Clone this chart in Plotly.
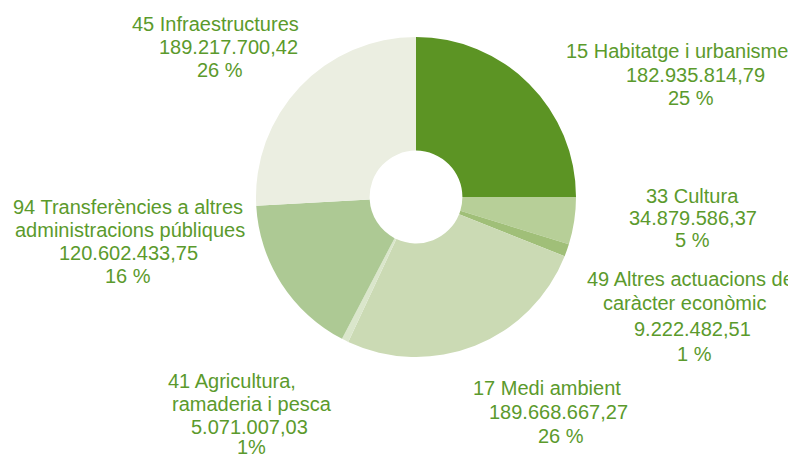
import plotly.graph_objects as go

# Pressupost per àrees de despesa (euros)
labels = [
    "15 Habitatge i urbanisme",
    "33 Cultura",
    "49 Altres actuacions de|caràcter econòmic",
    "17 Medi ambient",
    "41 Agricultura,|ramaderia i pesca",
    "94 Transferències a altres|administracions públiques",
    "45 Infraestructures",
]
values = [
    182935814.79,
    34879586.37,
    9222482.51,
    189668667.27,
    5071007.03,
    120602433.75,
    189217700.42,
]
amounts = [
    "182.935.814,79",
    "34.879.586,37",
    "9.222.482,51",
    "189.668.667,27",
    "5.071.007,03",
    "120.602.433,75",
    "189.217.700,42",
]
percents = ["25 %", "5 %", "1 %", "26 %", "1%", "16 %", "26 %"]

colors = ["#5c9424", "#b7cf98", "#a0bf78", "#cbdab4", "#dae6cb", "#adc994", "#ebeee1"]
text_color = "#5b9a2c"

# (x centre, baseline) of each text line, in reference pixels
line_pos = [
    [(677, 58), (695, 82), (691, 105)],
    [(692, 203), (693, 225), (692, 247)],
    [(690, 286), (684, 310), (692, 336), (694, 361)],
    [(547, 395), (558, 419), (561, 443)],
    [(232, 388), (252, 411), (250, 434), (251, 454)],
    [(128, 214), (130, 237), (128, 260), (128, 283)],
    [(215, 31), (228, 54), (220, 77)],
]

# the page body adds an 8px margin, so the figure is drawn 8px smaller and shifted
OFF = 8
W, H = 796 - OFF, 455 - OFF
cx, cy, r = 416 - OFF, 197 - OFF, 160

fig = go.Figure()
fig.add_trace(go.Pie(
    values=values,
    labels=[l.replace("|", " ") for l in labels],
    marker=dict(colors=colors, line=dict(width=0)),
    hole=0.29,
    sort=False,
    direction="clockwise",
    rotation=0,
    textinfo="none",
    hoverinfo="skip",
    domain=dict(x=[(cx - r) / W, (cx + r) / W], y=[(H - cy - r) / H, (H - cy + r) / H]),
))

annotations = []
for lab, amt, pct, pos in zip(labels, amounts, percents, line_pos):
    lines = lab.split("|") + [amt, pct]
    for txt, (x, base) in zip(lines, pos):
        annotations.append(dict(
            x=(x - OFF) / W, y=1 - (base - 7 - OFF) / H, xref="paper", yref="paper",
            text=txt, showarrow=False,
            xanchor="center", yanchor="middle",
            font=dict(family="Liberation Sans, Arial", size=20, color=text_color),
        ))

fig.update_layout(
    width=W, height=H,
    margin=dict(l=0, r=0, t=0, b=0),
    paper_bgcolor="white",
    plot_bgcolor="white",
    showlegend=False,
    annotations=annotations,
)

fig.write_html("out.html")
